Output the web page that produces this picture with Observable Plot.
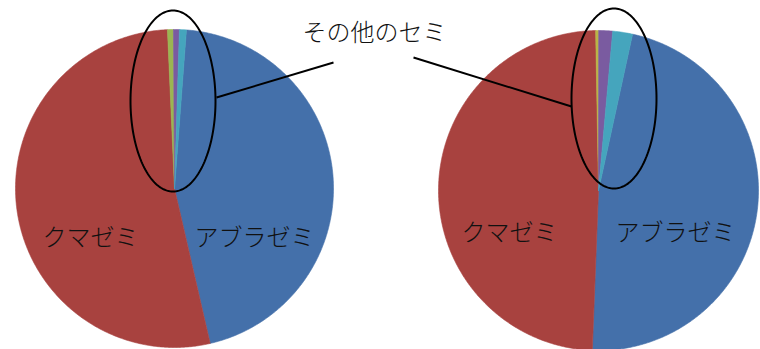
<!DOCTYPE html>
<html><head><meta charset="utf-8">
<script src="https://cdn.jsdelivr.net/npm/d3@7"></script>
<script src="https://cdn.jsdelivr.net/npm/@observablehq/plot@0.6"></script>
<style>body{margin:0;background:#fff}</style>
</head><body><div id="chart"></div>
<script>
// ---- data ----
const species = ["アブラゼミ", "クマゼミ", "その他A", "その他B", "その他C"];
const leftValues = [45.2, 52.9, 0.6, 0.6, 0.7];
const rightValues = [47.2, 49.1, 0.3, 1.4, 2.0];
const leftColors = ["#4470aa", "#a8423f", "#9bb552", "#7a5ba0", "#45a5bd"];
const rightColors = ["#4470aa", "#a8423f", "#b9b446", "#7a5ba0", "#45a5bd"];
const nameLabels = ["クマゼミ", "アブラゼミ"];
const otherLabel = "その他のセミ";

// ---- layout ----
const W = 760, H = 349;
const pies = [
  {values: leftValues, colors: leftColors, cx: 174, cy: 188, r: 159, start: 4.3},
  {values: rightValues, colors: rightColors, cx: 598, cy: 190, r: 160, start: 12.3}
];
const labelPos = [
  [{x: 90, y: 238}, {x: 254, y: 238}],
  [{x: 509, y: 233}, {x: 675, y: 233}]
];
const otherPos = {x: 374, y: 33};
const ellipses = [
  {cx: 172.5, cy: 100.5, rx: 42.5, ry: 90.5},
  {cx: 613.5, cy: 98, rx: 42.5, ry: 90}
];
const leaders = [
  {x1: 333, y1: 62, x2: 216, y2: 97},
  {x1: 413, y1: 57, x2: 571, y2: 106}
];

// ---- build slice polygons from data ----
const slicePts = [];
pies.forEach((p, pi) => {
  const s0 = p.start * Math.PI / 180;
  const arcs = d3.pie().sort(null).startAngle(s0).endAngle(s0 + 2 * Math.PI)(p.values);
  arcs.forEach((a, i) => {
    const key = pi + "-" + i;
    const col = p.colors[i];
    slicePts.push({key, x: p.cx, y: p.cy, col, name: species[i]});
    const n = Math.max(2, Math.ceil((a.endAngle - a.startAngle) / (Math.PI / 360)));
    for (let k = 0; k <= n; k++) {
      const t = a.startAngle + (a.endAngle - a.startAngle) * k / n;
      slicePts.push({key, x: p.cx + p.r * Math.sin(t), y: p.cy - p.r * Math.cos(t), col, name: species[i]});
    }
    slicePts.push({key, x: p.cx, y: p.cy, col, name: species[i]});
  });
});

const ellPts = [];
ellipses.forEach((e, ei) => {
  for (let k = 0; k <= 180; k++) {
    const t = 2 * Math.PI * k / 180;
    ellPts.push({key: ei, x: e.cx + e.rx * Math.cos(t), y: e.cy + e.ry * Math.sin(t)});
  }
});

const textData = [];
labelPos.forEach(pair => pair.forEach((pos, i) => textData.push({...pos, text: nameLabels[i]})));
textData.push({...otherPos, text: otherLabel});

const chart = Plot.plot({
  width: W, height: H,
  margin: 0,
  x: {domain: [0, W], range: [0, W], axis: null},
  y: {domain: [0, H], range: [0, H], axis: null},
  color: {type: "identity"},
  style: {background: "#fff"},
  marks: [
    Plot.line(slicePts, {x: "x", y: "y", z: "key", fill: "col", stroke: "col", strokeWidth: 0.6, curve: "linear"}),
    Plot.line(ellPts, {x: "x", y: "y", z: "key", stroke: "#000", strokeWidth: 2, fill: "none"}),
    Plot.link(leaders, {x1: "x1", y1: "y1", x2: "x2", y2: "y2", stroke: "#000", strokeWidth: 2}),
    Plot.text(textData, {x: "x", y: "y", text: "text", fontSize: 24, fill: "#111",
      fontFamily: "'Noto Sans CJK JP', sans-serif", fontWeight: 300})
  ]
});
document.getElementById("chart").appendChild(chart);
</script>
</body></html>
